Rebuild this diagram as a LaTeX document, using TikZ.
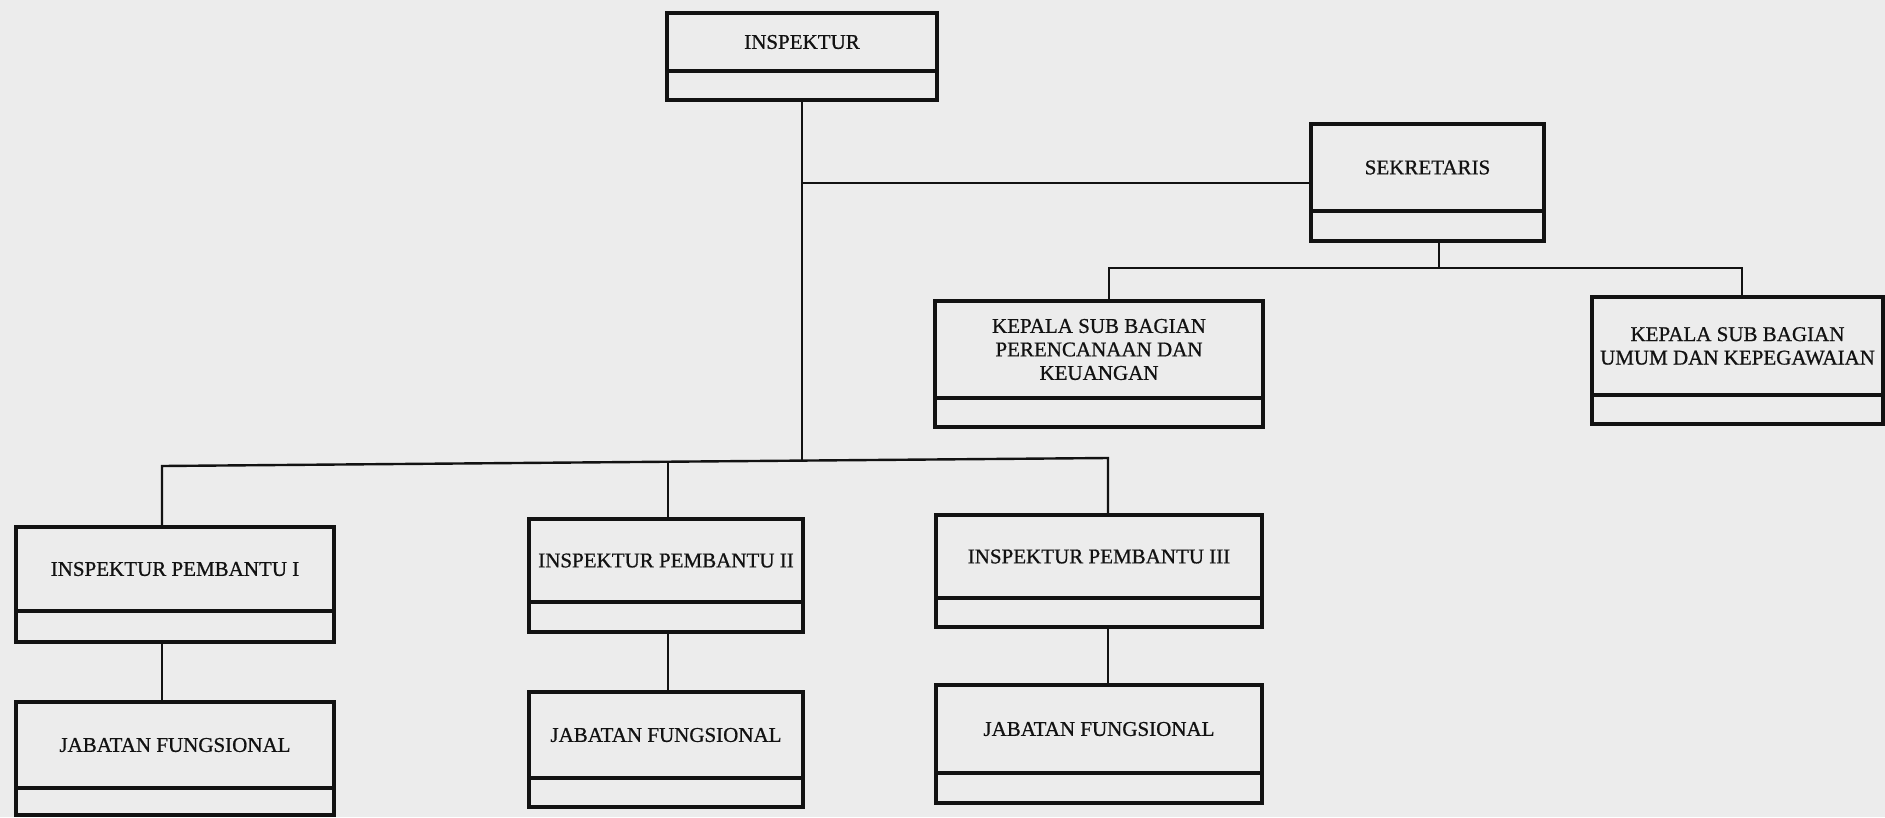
\documentclass[tikz,border=0pt]{standalone}
\usepackage{fontspec}
\setmainfont{Liberation Serif}[FakeBold=0.8]
\newcommand\orgfont{\fontsize{21}{23.5}\selectfont}
\definecolor{paper}{RGB}{236,236,236}
\definecolor{ink}{RGB}{18,18,18}
\tikzset{
  upper/.style={draw=ink, line width=3.2pt, rectangle, anchor=north west,
    inner sep=0pt, outer sep=0pt, align=center, font=\orgfont, text=ink},
  lower/.style={draw=ink, line width=3.2pt, rectangle, anchor=north west,
    inner sep=0pt, outer sep=0pt},
  link/.style={draw=ink, line width=2.4pt},
}
\begin{document}
\begin{tikzpicture}[x=1pt, y=-1pt]
  \fill[paper] (0,0) rectangle (1885,817);
  \useasboundingbox (0,0) rectangle (1885,817);

  % top level
  \node[upper, minimum width=270pt, minimum height=58pt] (ins) at (667,13) {INSPEKTUR};
  \node[lower, minimum width=270pt, minimum height=29pt] (ins-b) at (ins.south west) {};

  % secretariat
  \node[upper, minimum width=233pt, minimum height=87pt] (sek) at (1311,124) {SEKRETARIS};
  \node[lower, minimum width=233pt, minimum height=30pt] (sek-b) at (sek.south west) {};

  \node[upper, minimum width=328pt, minimum height=97pt] (kspk) at (935,301)
    {KEPALA SUB BAGIAN\\PERENCANAAN DAN\\KEUANGAN};
  \node[lower, minimum width=328pt, minimum height=29pt] (kspk-b) at (kspk.south west) {};

  \node[upper, minimum width=291pt, minimum height=98pt] (kumum) at (1592,297)
    {KEPALA SUB BAGIAN\\UMUM DAN KEPEGAWAIAN};
  \node[lower, minimum width=291pt, minimum height=29pt] (kumum-b) at (kumum.south west) {};

  % assistant inspectors
  \node[upper, minimum width=318pt, minimum height=84pt] (p1) at (16,527) {INSPEKTUR PEMBANTU I};
  \node[lower, minimum width=318pt, minimum height=31pt] (p1-b) at (p1.south west) {};

  \node[upper, minimum width=274pt, minimum height=83pt] (p2) at (529,519) {INSPEKTUR PEMBANTU II};
  \node[lower, minimum width=274pt, minimum height=30pt] (p2-b) at (p2.south west) {};

  \node[upper, minimum width=326pt, minimum height=83pt] (p3) at (936,515) {INSPEKTUR PEMBANTU III};
  \node[lower, minimum width=326pt, minimum height=29pt] (p3-b) at (p3.south west) {};

  % functional positions
  \node[upper, minimum width=318pt, minimum height=86pt] (j1) at (16,702) {JABATAN FUNGSIONAL};
  \node[lower, minimum width=318pt, minimum height=27pt] (j1-b) at (j1.south west) {};

  \node[upper, minimum width=274pt, minimum height=86pt] (j2) at (529,692) {JABATAN FUNGSIONAL};
  \node[lower, minimum width=274pt, minimum height=29pt] (j2-b) at (j2.south west) {};

  \node[upper, minimum width=326pt, minimum height=88pt] (j3) at (936,685) {JABATAN FUNGSIONAL};
  \node[lower, minimum width=326pt, minimum height=30pt] (j3-b) at (j3.south west) {};

  % junction points
  \coordinate (hubS) at (802,183);
  \coordinate (hubM) at (802,460);
  \coordinate (sekJ) at (1439,268);
  \coordinate (kl) at (1109,268);
  \coordinate (kr) at (1742,268);
  \coordinate (b1) at (162,466);
  \coordinate (b2) at (668,462);
  \coordinate (b3) at (1108,458);

  % connectors
  \draw[link] (ins-b.south) -- (hubM);
  \draw[link] (hubS) -- (hubS -| sek.west);
  \draw[link] (sekJ |- sek-b.south) -- (sekJ);
  \draw[link] (kl |- kspk.north) -- (kl) -- (kr) -- (kr |- kumum.north);
  \draw[link] (b1 |- p1.north) -- (b1) -- (b3) -- (b3 |- p3.north);
  \draw[link] (b2) -- (b2 |- p2.north);
  \draw[link] (b1 |- p1-b.south) -- (b1 |- j1.north);
  \draw[link] (b2 |- p2-b.south) -- (b2 |- j2.north);
  \draw[link] (b3 |- p3-b.south) -- (b3 |- j3.north);
\end{tikzpicture}
\end{document}
